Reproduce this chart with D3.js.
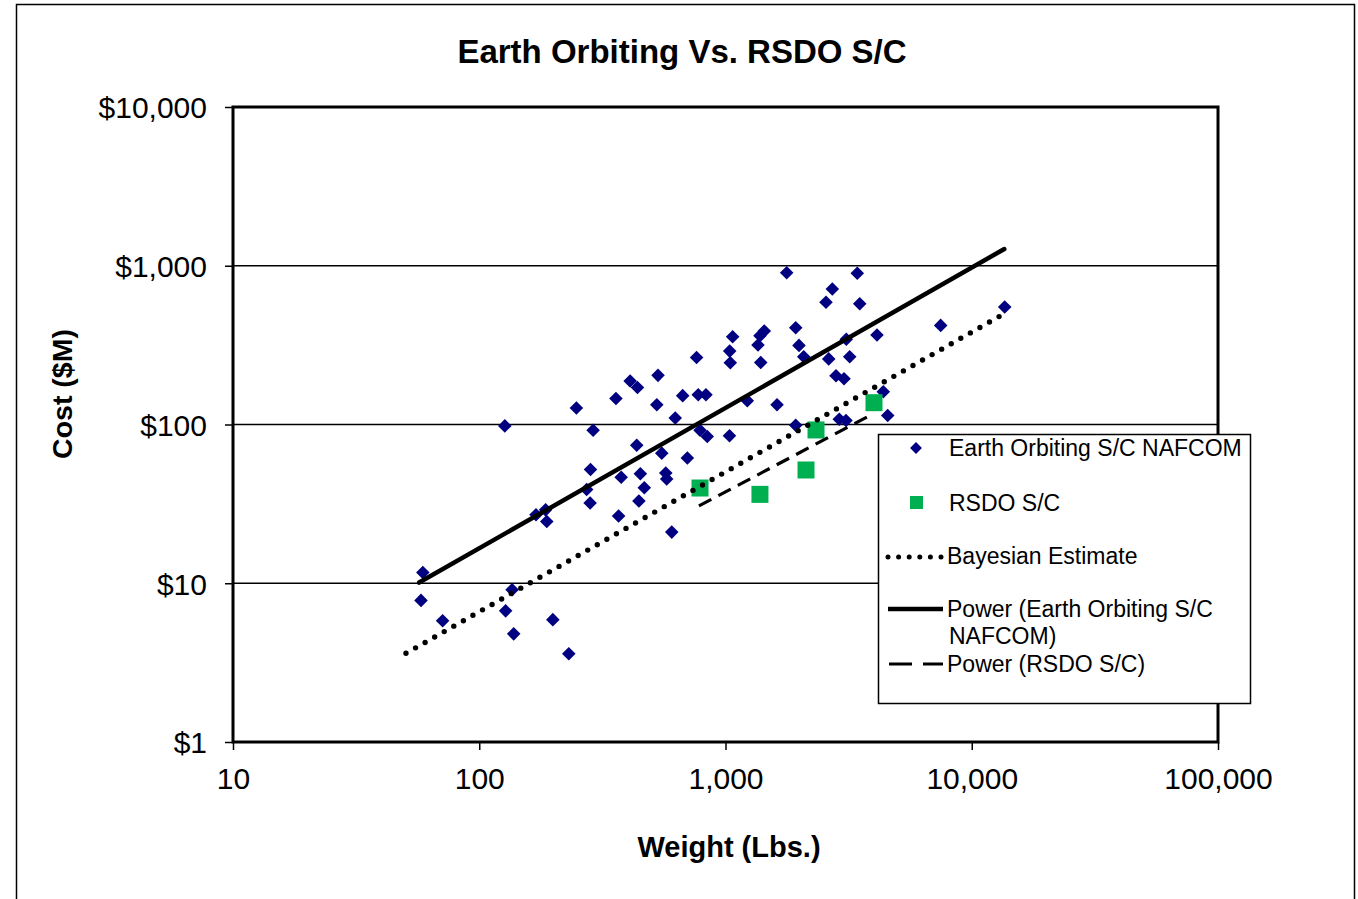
<!DOCTYPE html>
<html>
<head>
<meta charset="utf-8">
<script src="https://cdn.jsdelivr.net/npm/d3@7"></script>
<style>
  body { margin: 0; background: #fff; }
  text { font-family: "Liberation Sans", Arial, sans-serif; fill: #000; }
</style>
</head>
<body>
<div id="chart"></div>
<script>
// Earth orbiting S/C NAFCOM (weight lbs, cost $M)
var earthWeight = [59, 58, 71, 127, 128, 136, 138, 170, 186, 188, 199, 231, 248, 273, 283, 282, 290,
  359, 368, 377, 410, 439, 436, 451, 445, 468, 532, 526, 551, 572, 577, 605, 625, 670, 700,
  763, 775, 833, 788, 843, 1038, 1040, 1046, 1069, 1226, 1355, 1390, 1380, 1437, 1619, 1772,
  1928, 1988, 2078, 1928, 2559, 2625, 2715, 2810, 3029, 3094, 3194, 2898, 3085, 3429, 3508,
  4123, 4373, 4557, 7478, 13609];
var earthCost = [11.7, 7.8, 5.8, 98, 6.7, 9.1, 4.8, 27, 29, 24.5, 5.9, 3.6, 127, 39, 52, 32, 92,
  146, 26.5, 46.5, 188, 171, 74, 49, 33, 40, 204, 133, 66, 49.5, 45.4, 21, 110, 152, 61.5,
  264, 154, 154, 92, 84, 85, 290, 245, 357, 141, 317, 246, 362, 388, 133, 904,
  407, 315, 267, 99, 589, 259, 714, 203, 194, 344, 267, 108, 106, 896, 577,
  366, 161, 114, 421, 550];

// RSDO S/C
var rsdoWeight = [788, 1380, 2123, 2331, 4009];
var rsdoCost = [39.8, 36.3, 51.7, 92.4, 137.2];

// trend lines (end points)
var earthPowerWeight = [57, 13560];
var earthPowerCost = [10.1, 1275];
var bayesWeight = [50.4, 13020];
var bayesCost = [3.62, 482];
var rsdoPowerWeight = [780, 4009];
var rsdoPowerCost = [30.7, 117.6];

var xTicks = [10, 100, 1000, 10000, 100000];
var yTicks = [1, 10, 100, 1000, 10000];
var gridTicks = [10, 100, 1000];

var width = 1358, height = 899;
var plotLeft = 233, plotRight = 1218, plotTop = 107, plotBottom = 742;

var svg = d3.select("#chart").append("svg")
  .attr("width", width)
  .attr("height", height);

// outer chart border
svg.append("rect")
  .attr("x", 16.5).attr("y", 4.5)
  .attr("width", 1338).attr("height", 910)
  .attr("fill", "none").attr("stroke", "#000").attr("stroke-width", 1.5);

var x = d3.scaleLog().domain([10, 100000]).range([plotLeft, plotRight]);
var y = d3.scaleLog().domain([1, 10000]).range([plotBottom, plotTop]);

var fmt = d3.format(",");

// gridlines
svg.selectAll("line.grid")
  .data(gridTicks)
  .enter()
  .append("line")
  .attr("class", "grid")
  .attr("x1", plotLeft).attr("x2", plotRight)
  .attr("y1", d => y(d)).attr("y2", d => y(d))
  .attr("stroke", "#000").attr("stroke-width", 1.3);

// axes
var xAxis = d3.axisBottom(x).tickValues(xTicks).tickSize(8).tickFormat(d => fmt(d));
var yAxis = d3.axisLeft(y).tickValues(yTicks).tickSize(8).tickFormat(d => "$" + fmt(d));

var gx = svg.append("g").attr("transform", "translate(0," + plotBottom + ")").call(xAxis);
var gy = svg.append("g").attr("transform", "translate(" + plotLeft + ",0)").call(yAxis);
[gx, gy].forEach(g => {
  g.select(".domain").remove();
  g.selectAll(".tick line").attr("stroke", "#000").attr("stroke-width", 1.5);
  g.selectAll(".tick text").attr("font-size", "30px").attr("font-family", "Liberation Sans, Arial, sans-serif").attr("fill", "#000");
});
gx.selectAll(".tick text").attr("y", 26).attr("dy", "0.71em");
gy.selectAll(".tick text").attr("x", -26).attr("dy", "0.36em");

// plot area frame
svg.append("rect")
  .attr("x", plotLeft).attr("y", plotTop)
  .attr("width", plotRight - plotLeft).attr("height", plotBottom - plotTop)
  .attr("fill", "none").attr("stroke", "#000").attr("stroke-width", 3);

var earth = earthWeight.map((w, i) => ({w: w, c: earthCost[i]}));
var rsdo = rsdoWeight.map((w, i) => ({w: w, c: rsdoCost[i]}));

var diamond = d3.symbol().type(d3.symbolSquare).size(92);

// diamonds
svg.append("g").selectAll("path")
  .data(earth)
  .enter()
  .append("path")
  .attr("d", diamond)
  .attr("transform", d => "translate(" + x(d.w) + "," + y(d.c) + ") rotate(45)")
  .attr("fill", "#000080");

var line = d3.line().x(d => x(d[0])).y(d => y(d[1]));

// power (earth)
svg.append("path")
  .datum(d3.zip(earthPowerWeight, earthPowerCost))
  .attr("d", line)
  .attr("fill", "none").attr("stroke", "#000").attr("stroke-width", 4.5)
  .attr("stroke-linecap", "round");

// squares
svg.append("g").selectAll("rect")
  .data(rsdo)
  .enter()
  .append("rect")
  .attr("x", d => x(d.w) - 8.5)
  .attr("y", d => y(d.c) - 8.5)
  .attr("width", 17).attr("height", 17)
  .attr("fill", "#00b050");

// power (rsdo)
svg.append("path")
  .datum(d3.zip(rsdoPowerWeight, rsdoPowerCost))
  .attr("d", line)
  .attr("fill", "none").attr("stroke", "#000").attr("stroke-width", 3.2)
  .attr("stroke-dasharray", "14 8");

// bayesian estimate
svg.append("path")
  .datum(d3.zip(bayesWeight, bayesCost))
  .attr("d", line)
  .attr("fill", "none").attr("stroke", "#000").attr("stroke-width", 5.4)
  .attr("stroke-linecap", "round")
  .attr("stroke-dasharray", "0 11");

// title and axis titles
svg.append("text")
  .attr("x", 682).attr("y", 63)
  .attr("text-anchor", "middle")
  .attr("font-size", "33px").attr("font-weight", "bold")
  .text("Earth Orbiting Vs. RSDO S/C");

svg.append("text")
  .attr("x", 729).attr("y", 857)
  .attr("text-anchor", "middle")
  .attr("font-size", "29px").attr("font-weight", "bold")
  .text("Weight (Lbs.)");

svg.append("text")
  .attr("transform", "translate(72,394) rotate(-90)")
  .attr("text-anchor", "middle")
  .attr("font-size", "28.5px").attr("font-weight", "bold")
  .text("Cost ($M)");

// legend
var lg = svg.append("g");
lg.append("rect")
  .attr("x", 878.5).attr("y", 434.5)
  .attr("width", 372).attr("height", 269)
  .attr("fill", "#fff").attr("stroke", "#000").attr("stroke-width", 1.5);

var legendFont = "23px";
lg.append("path")
  .attr("d", d3.symbol().type(d3.symbolSquare).size(70))
  .attr("transform", "translate(916,448) rotate(45)")
  .attr("fill", "#000080");
lg.append("text").attr("x", 949).attr("y", 456).attr("font-size", legendFont).text("Earth Orbiting S/C NAFCOM");

lg.append("rect").attr("x", 910).attr("y", 496).attr("width", 13).attr("height", 13).attr("fill", "#00b050");
lg.append("text").attr("x", 949).attr("y", 511).attr("font-size", legendFont).text("RSDO S/C");

lg.append("line").attr("x1", 888).attr("x2", 942).attr("y1", 557).attr("y2", 557)
  .attr("stroke", "#000").attr("stroke-width", 5).attr("stroke-linecap", "round")
  .attr("stroke-dasharray", "0 10.6");
lg.append("text").attr("x", 947).attr("y", 564).attr("font-size", legendFont).text("Bayesian Estimate");

lg.append("line").attr("x1", 888).attr("x2", 943).attr("y1", 609).attr("y2", 609)
  .attr("stroke", "#000").attr("stroke-width", 4.5);
lg.append("text").attr("x", 947).attr("y", 617).attr("font-size", legendFont).text("Power (Earth Orbiting S/C");
lg.append("text").attr("x", 949).attr("y", 644).attr("font-size", legendFont).text("NAFCOM)");

lg.append("line").attr("x1", 889).attr("x2", 943).attr("y1", 664).attr("y2", 664)
  .attr("stroke", "#000").attr("stroke-width", 3.2).attr("stroke-dasharray", "23 11");
lg.append("text").attr("x", 947).attr("y", 672).attr("font-size", legendFont).text("Power (RSDO S/C)");
</script>
</body>
</html>
